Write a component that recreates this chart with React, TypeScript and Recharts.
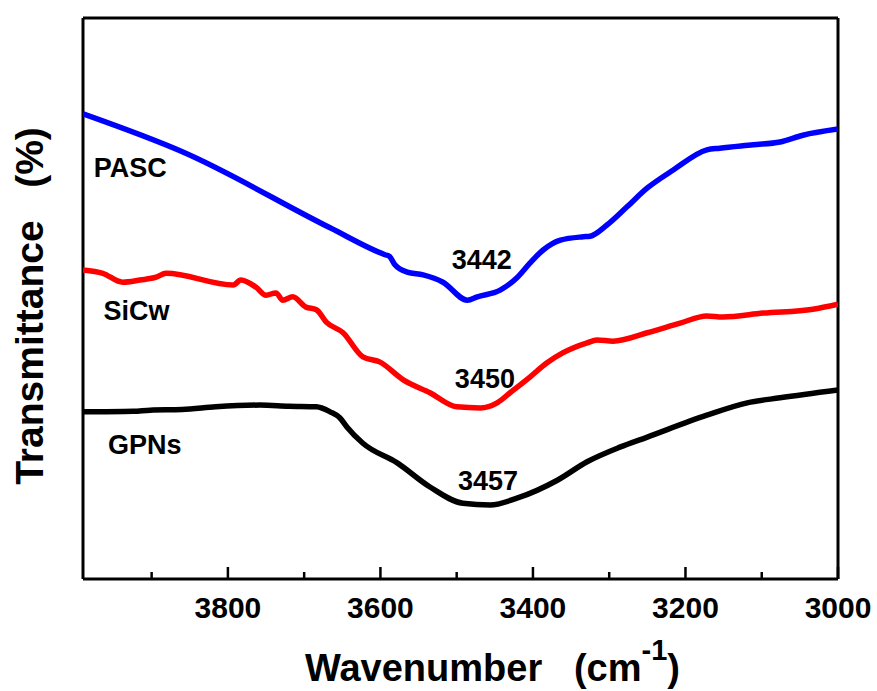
import React from 'react'
import {
  LineChart,
  Line,
  XAxis,
  YAxis,
  ReferenceLine,
  ReferenceDot,
} from 'recharts'

// wavenumbers (cm-1) and transmittance (a.u.)
const pascWn = [3990, 3859, 3666, 3594, 3588, 3581, 3565, 3544, 3518, 3486, 3473, 3443, 3421, 3404, 3387, 3364, 3334, 3325, 3303, 3277, 3250, 3216, 3172, 3155, 3111, 3076, 3046, 3000]
const pascT = [82.9, 76.1, 62.6, 57.8, 57.5, 56.0, 54.7, 54.2, 52.9, 49.7, 50.3, 51.5, 53.7, 56.3, 58.6, 60.4, 61.0, 61.1, 63.1, 66.3, 69.7, 72.9, 76.5, 76.8, 77.4, 77.9, 79.1, 80.2]

const sicwWn = [3990, 3964, 3938, 3915, 3894, 3881, 3793, 3783, 3763, 3750, 3737, 3728, 3715, 3698, 3684, 3671, 3649, 3623, 3601, 3570, 3535, 3500, 3469, 3447, 3430, 3404, 3382, 3361, 3329, 3316, 3295, 3250, 3207, 3172, 3151, 3098, 3033, 3000]
const sicwT = [55.1, 54.5, 52.9, 53.3, 53.8, 54.5, 52.4, 53.3, 52.0, 50.6, 51.0, 49.7, 50.3, 48.5, 48.0, 45.8, 43.9, 39.6, 38.7, 35.5, 33.2, 30.7, 30.5, 31.4, 33.2, 36.0, 38.5, 40.3, 42.1, 42.6, 42.4, 43.9, 45.6, 46.9, 46.7, 47.4, 48.1, 49.0]

const gpnsWn = [3990, 3924, 3902, 3860, 3816, 3758, 3720, 3684, 3666, 3653, 3644, 3623, 3578, 3535, 3492, 3456, 3421, 3368, 3329, 3286, 3250, 3172, 3119, 3076, 3000]
const gpnsT = [29.8, 29.9, 30.1, 30.2, 30.7, 31.0, 30.8, 30.7, 29.8, 28.7, 27.1, 24.2, 20.7, 16.4, 13.5, 13.2, 14.4, 17.6, 20.9, 23.5, 25.3, 29.2, 31.4, 32.3, 33.7]

const xTicks = [3900, 3800, 3700, 3600, 3500, 3400, 3300, 3200, 3100, 3000]
const majorTicks = [3800, 3600, 3400, 3200, 3000]

const seriesNames = ['PASC', 'SiCw', 'GPNs']
const nameWn = [3928, 3920, 3909]
const nameT = [73.3, 47.8, 23.9]

const peakLabels = ['3442', '3450', '3457']
const peakWn = [3467, 3463, 3459]
const peakT = [56.9, 35.7, 17.5]

const toRows = (wn: number[], t: number[]) => wn.map((w, i) => ({ wn: w, t: t[i] }))

const FONT = 'Arial, "Liberation Sans", Helvetica, sans-serif'

const XTick = (props: any) => {
  const { x, y, payload } = props
  const major = majorTicks.includes(payload.value)
  return (
    <g>
      <line x1={x} x2={x} y1={y} y2={y - (major ? 12 : 7)} stroke="#000" strokeWidth={2.5} />
      {major && (
        <text x={x} y={y + 39} textAnchor="middle" fontFamily={FONT} fontWeight="bold" fontSize={30} fill="#000">
          {payload.value}
        </text>
      )}
    </g>
  )
}

const textShape = (label: string, size: number) => (p: any) => (
  <text
    x={p.cx}
    y={p.cy}
    textAnchor="middle"
    dominantBaseline="central"
    fontFamily={FONT}
    fontWeight="bold"
    fontSize={size}
    fill="#000"
  >
    {label}
  </text>
)

// both axis titles, drawn from the x axis label slot
const AxisTitles = () => (
  <g>
    <text x={305} y={681} fontFamily={FONT} fontWeight="bold" fontSize={38} fill="#000" style={{ whiteSpace: 'pre' }}>
      Wavenumber{'   '}(cm
      <tspan fontSize={29} dy={-21}>-1</tspan>
      <tspan dy={21}>)</tspan>
    </text>
    <text
      x={43}
      y={306}
      transform="rotate(-90, 43, 306)"
      textAnchor="middle"
      fontFamily={FONT}
      fontWeight="bold"
      fontSize={39}
      fill="#000"
      style={{ whiteSpace: 'pre' }}
    >
      {'Transmittance   (%)'}
    </text>
  </g>
)

export default function App() {
  return (
    <div style={{ position: 'absolute', left: 0, top: 0, background: '#fff' }}>
      <LineChart width={877} height={691} margin={{ top: 18, right: 39, left: 83, bottom: 0 }}>
        <XAxis
          type="number"
          dataKey="wn"
          domain={[3000, 3990]}
          reversed
          allowDataOverflow
          ticks={xTicks}
          interval={0}
          height={112}
          tickSize={0}
          tickMargin={0}
          tickLine={false}
          tick={<XTick />}
          axisLine={{ stroke: '#000', strokeWidth: 3 }}
          label={{ content: () => <AxisTitles /> }}
        />
        <YAxis type="number" dataKey="t" domain={[0, 100]} hide />
        <ReferenceLine y={100} stroke="#000" strokeWidth={3} />
        <ReferenceLine x={3000} stroke="#000" strokeWidth={3} />
        <ReferenceLine x={3990} stroke="#000" strokeWidth={3} />
        <Line data={toRows(pascWn, pascT)} dataKey="t" type="monotone" stroke="#0000ff" strokeWidth={5.5} dot={false} isAnimationActive={false} />
        <Line data={toRows(sicwWn, sicwT)} dataKey="t" type="monotone" stroke="#ff0000" strokeWidth={5.5} dot={false} isAnimationActive={false} />
        <Line data={toRows(gpnsWn, gpnsT)} dataKey="t" type="monotone" stroke="#000000" strokeWidth={5.5} dot={false} isAnimationActive={false} />
        {seriesNames.map((n, i) => (
          <ReferenceDot key={n} x={nameWn[i]} y={nameT[i]} r={0} shape={textShape(n, 27)} />
        ))}
        {peakLabels.map((n, i) => (
          <ReferenceDot key={n} x={peakWn[i]} y={peakT[i]} r={0} shape={textShape(n, 27)} />
        ))}
      </LineChart>
    </div>
  )
}
